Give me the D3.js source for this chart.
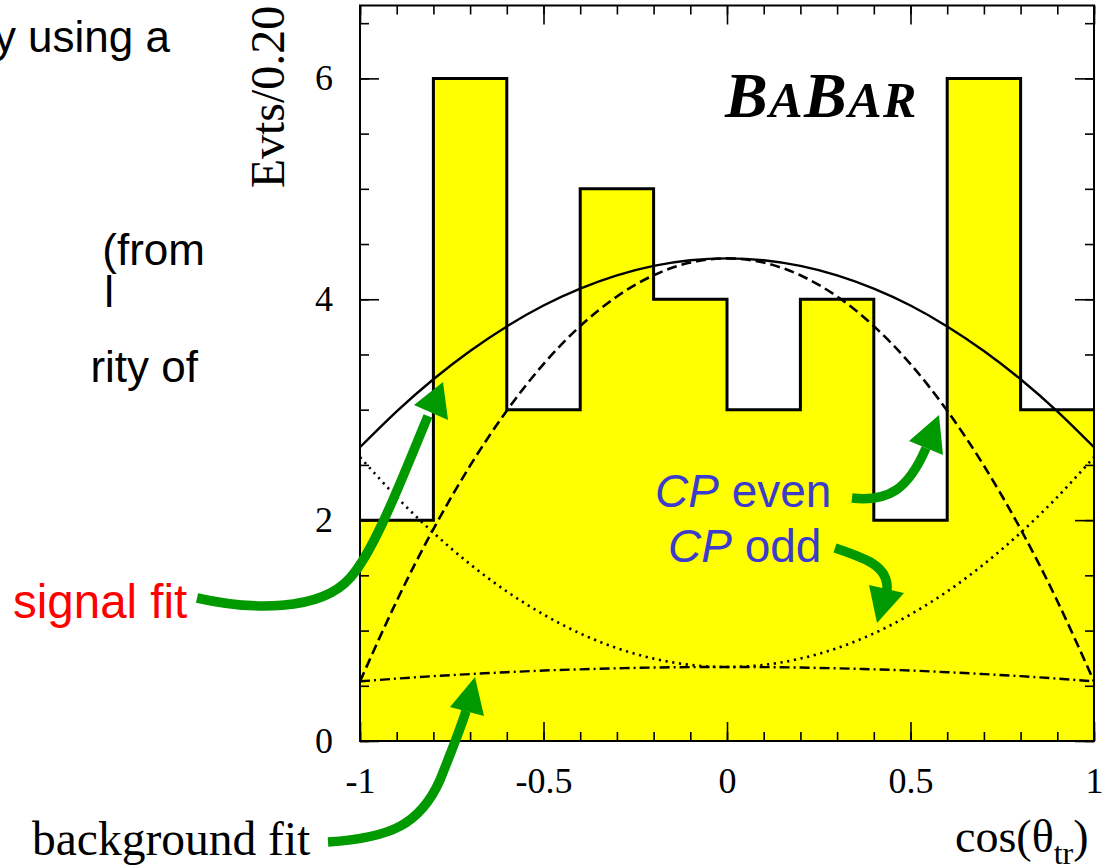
<!DOCTYPE html>
<html>
<head>
<meta charset="utf-8">
<script src="https://cdn.jsdelivr.net/npm/d3@7"></script>
<style>
  html, body { margin: 0; padding: 0; background: #fff; overflow: hidden; }
  svg { display: block; }
</style>
</head>
<body>
<svg id="chart" width="1103" height="865"></svg>
<script>
// Histogram: events per 0.20 in cos(theta_tr)
const binEdges = [-1, -0.8, -0.6, -0.4, -0.2, 0, 0.2, 0.4, 0.6, 0.8, 1];
const counts   = [2, 6, 3, 5, 4, 3, 4, 2, 6, 3];

// Fit projections sampled along cos(theta_tr)
const fitX     = [-1, -0.9, -0.8, -0.7, -0.6, -0.5, -0.4, -0.3, -0.2, -0.1, 0,
                   0.1, 0.2, 0.3, 0.4, 0.5, 0.6, 0.7, 0.8, 0.9, 1];
const fitTotal = [2.660, 2.985, 3.276, 3.532, 3.754, 3.943, 4.096, 4.216, 4.302, 4.353, 4.370,
                  4.353, 4.302, 4.216, 4.096, 3.943, 3.754, 3.532, 3.276, 2.985, 2.660];
const fitEven  = [0.540, 1.268, 1.919, 2.493, 2.991, 3.413, 3.757, 4.025, 4.217, 4.332, 4.370,
                  4.332, 4.217, 4.025, 3.757, 3.413, 2.991, 2.493, 1.919, 1.268, 0.540];
const fitOdd   = [2.570, 2.209, 1.886, 1.601, 1.354, 1.146, 0.974, 0.841, 0.746, 0.689, 0.670,
                  0.689, 0.746, 0.841, 0.974, 1.146, 1.354, 1.601, 1.886, 2.209, 2.570];
const fitBkg   = [0.540, 0.565, 0.587, 0.606, 0.623, 0.638, 0.649, 0.658, 0.665, 0.669, 0.670,
                  0.669, 0.665, 0.658, 0.649, 0.638, 0.623, 0.606, 0.587, 0.565, 0.540];

// Axis ticks and labels
const xMajorTicks  = [-1, -0.5, 0, 0.5, 1];
const xTickLabels  = ["-1", "-0.5", "0", "0.5", "1"];
const yMajorTicks  = [0, 2, 4, 6];
const yTickLabels  = ["0", "2", "4", "6"];
const xMinorStep = 0.1;
const yMinorStep = 0.5;

const SERIF = "'Liberation Serif', 'Times New Roman', serif";
const SANS  = "'Liberation Sans', Arial, sans-serif";

const svg = d3.select("#chart");

const frame = { left: 360, right: 1094, top: 5.5, bottom: 741 };
const x = d3.scaleLinear().domain([-1, 1]).range([frame.left, frame.right]);
const y = d3.scaleLinear().domain([0, 6.66]).range([frame.bottom, frame.top]);

// ---- histogram (filled steps + outline)
const stepPts = counts.map((c, i) => [binEdges[i], c]);
stepPts.push([binEdges[binEdges.length - 1], counts[counts.length - 1]]);

svg.append("path")
  .datum(stepPts)
  .attr("fill", "#ffff00")
  .attr("d", d3.area().curve(d3.curveStepAfter)
    .x(d => x(d[0])).y0(y(0)).y1(d => y(d[1])));

svg.append("path")
  .datum(stepPts)
  .attr("fill", "none")
  .attr("stroke", "#000")
  .attr("stroke-width", 3)
  .attr("d", d3.line().curve(d3.curveStepAfter)
    .x(d => x(d[0])).y(d => y(d[1])));

// ---- fit curves
const curveLine = d3.line().curve(d3.curveNatural)
  .x(d => x(d[0])).y(d => y(d[1]));
const fits = [
  { vals: fitBkg,   dash: "10,4,2,4", w: 2.4 },
  { vals: fitOdd,   dash: "2.2,4.6",  w: 2.6 },
  { vals: fitEven,  dash: "10,5",     w: 2.6 },
  { vals: fitTotal, dash: null,       w: 2.4 }
];
fits.forEach(f => {
  svg.append("path")
    .datum(fitX.map((v, i) => [v, f.vals[i]]))
    .attr("fill", "none")
    .attr("stroke", "#000")
    .attr("stroke-width", f.w)
    .attr("stroke-dasharray", f.dash)
    .attr("d", curveLine);
});

// ---- frame
svg.append("rect")
  .attr("x", frame.left).attr("y", frame.top)
  .attr("width", frame.right - frame.left).attr("height", frame.bottom - frame.top)
  .attr("fill", "none").attr("stroke", "#000").attr("stroke-width", 2);

// ---- axes (ticks point inward on all four sides)
const xMinor = d3.range(-1, 1 + 1e-9, xMinorStep).map(v => +v.toFixed(2));
const yMinor = d3.range(0, 6.5 + 1e-9, yMinorStep).map(v => +v.toFixed(2));

function styleAxis(g) {
  g.select(".domain").remove();
  g.selectAll(".tick line").attr("stroke", "#000").attr("stroke-width", 1.6);
  g.selectAll(".tick text").attr("fill", "#000");
}

// bottom
svg.append("g").attr("transform", `translate(0,${frame.bottom})`)
  .call(d3.axisBottom(x).tickValues(xMinor).tickSize(-9).tickFormat(""))
  .call(styleAxis);
svg.append("g").attr("transform", `translate(0,${frame.bottom})`)
  .call(d3.axisBottom(x).tickValues(xMajorTicks).tickSize(-19).tickPadding(26)
    .tickFormat((d, i) => xTickLabels[i]))
  .call(styleAxis)
  .call(g => g.selectAll(".tick text").attr("font-family", SERIF).attr("font-size", 36));
// top
svg.append("g").attr("transform", `translate(0,${frame.top})`)
  .call(d3.axisTop(x).tickValues(xMinor).tickSize(-9).tickFormat(""))
  .call(styleAxis);
svg.append("g").attr("transform", `translate(0,${frame.top})`)
  .call(d3.axisTop(x).tickValues(xMajorTicks).tickSize(-19).tickFormat(""))
  .call(styleAxis);
// left
svg.append("g").attr("transform", `translate(${frame.left},0)`)
  .call(d3.axisLeft(y).tickValues(yMinor).tickSize(-9).tickFormat(""))
  .call(styleAxis);
svg.append("g").attr("transform", `translate(${frame.left},0)`)
  .call(d3.axisLeft(y).tickValues(yMajorTicks).tickSize(-19).tickPadding(27)
    .tickFormat((d, i) => yTickLabels[i]))
  .call(styleAxis)
  .call(g => g.selectAll(".tick text").attr("font-family", SERIF).attr("font-size", 36));
// right
svg.append("g").attr("transform", `translate(${frame.right},0)`)
  .call(d3.axisRight(y).tickValues(yMinor).tickSize(-9).tickFormat(""))
  .call(styleAxis);
svg.append("g").attr("transform", `translate(${frame.right},0)`)
  .call(d3.axisRight(y).tickValues(yMajorTicks).tickSize(-19).tickFormat(""))
  .call(styleAxis);

// ---- axis titles
svg.append("text")
  .attr("transform", "translate(284,97) rotate(-90)")
  .attr("text-anchor", "middle")
  .attr("font-family", SERIF).attr("font-size", 48)
  .text("Evts/0.20");

const xt = svg.append("text")
  .attr("x", 955).attr("y", 852)
  .attr("font-family", SERIF).attr("font-size", 46);
xt.append("tspan").text("cos(\u03b8");
xt.append("tspan").attr("font-size", 32).attr("dy", 12).text("tr");
xt.append("tspan").attr("dy", -12).text(")");

// ---- experiment logo
const logo = svg.append("text")
  .attr("x", 725).attr("y", 117)
  .attr("letter-spacing", 1.5)
  .attr("font-family", SERIF).attr("font-weight", "bold").attr("font-style", "italic");
logo.append("tspan").attr("font-size", 64).text("B");
logo.append("tspan").attr("font-size", 50).text("A");
logo.append("tspan").attr("font-size", 64).text("B");
logo.append("tspan").attr("font-size", 50).text("AR");

// ---- surrounding slide text
const sideText = [
  { t: "by using a", x: 170, y: 52 },
  { t: "(from",      x: 205, y: 265 },
  { t: "l",          x: 114, y: 307 },
  { t: "rity of",    x: 198, y: 382 }
];
sideText.forEach(s => {
  svg.append("text").attr("x", s.x).attr("y", s.y)
    .attr("text-anchor", "end")
    .attr("font-family", SANS).attr("font-size", 44).attr("fill", "#000")
    .text(s.t);
});

// ---- annotations
svg.append("text").attr("x", 13).attr("y", 618)
  .attr("font-family", SANS).attr("font-size", 47.5).attr("fill", "#ff0000")
  .text("signal fit");

svg.append("text").attr("x", 32).attr("y", 855)
  .attr("font-family", SERIF).attr("font-size", 47.5).attr("fill", "#000")
  .text("background fit");

const BLUE = "#3b3bcc";
const cpEven = svg.append("text").attr("x", 655).attr("y", 507)
  .attr("font-family", SANS).attr("font-size", 46).attr("fill", BLUE);
cpEven.append("tspan").attr("font-style", "italic").text("CP");
cpEven.append("tspan").text(" even");

const cpOdd = svg.append("text").attr("x", 668).attr("y", 562)
  .attr("font-family", SANS).attr("font-size", 46).attr("fill", BLUE);
cpOdd.append("tspan").attr("font-style", "italic").text("CP");
cpOdd.append("tspan").text(" odd");

// green pointer arrows
const GREEN = "#009900";
const arrows = [
  { shaft: "M197,598 C250,610 320,612 350,578 C375,550 402,478 428,416",
    head: [[443, 382], [414, 405], [448, 420]] },
  { shaft: "M852,498 C888,502 908,490 926,448",
    head: [[939, 415], [909, 441], [943, 455]] },
  { shaft: "M835,548 C865,558 889,566 887,590",
    head: [[877, 623], [869, 585], [904, 593]] },
  { shaft: "M328,842 C390,838 420,825 440,780 C452,750 460,730 466,711",
    head: [[475, 677], [450, 707], [484, 716]] }
];
arrows.forEach(a => {
  svg.append("path").attr("d", a.shaft)
    .attr("fill", "none").attr("stroke", GREEN).attr("stroke-width", 9.5);
  svg.append("path").attr("d", "M" + a.head.map(p => p.join(",")).join("L") + "Z")
    .attr("fill", GREEN);
});
</script>
</body>
</html>
